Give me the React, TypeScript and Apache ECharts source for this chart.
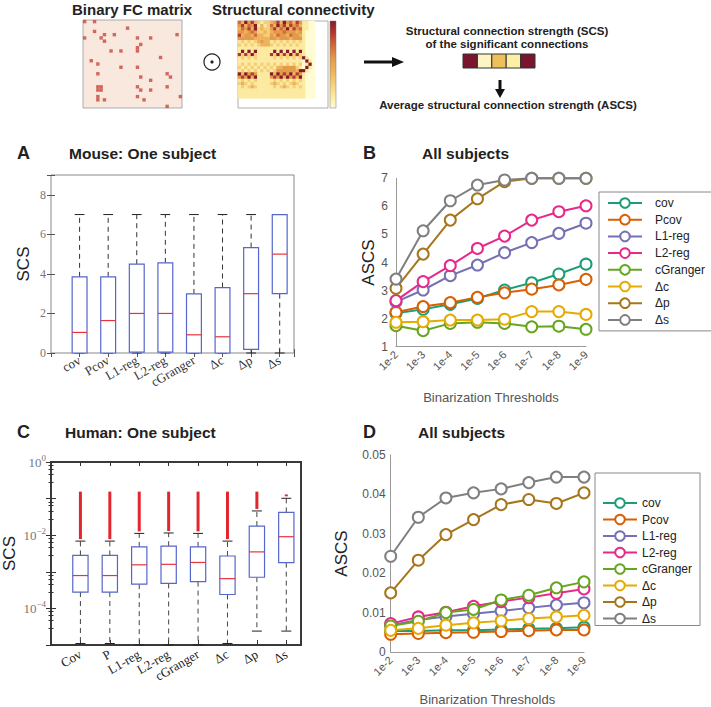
import React, { useEffect, useRef } from 'react';
import * as echarts from 'echarts';

// ---------- data ----------
const seriesNames = ['cov', 'Pcov', 'L1-reg', 'L2-reg', 'cGranger', 'Δc', 'Δp', 'Δs'];
const seriesColors = ['#1b9e77', '#d95f02', '#7570b3', '#e7298a', '#66a61e', '#e6ab02', '#a6761d', '#7f7f7f'];
const thresholds = ['1e-2', '1e-3', '1e-4', '1e-5', '1e-6', '1e-7', '1e-8', '1e-9'];

// Panel A (mouse, one subject) box statistics
const catsA = ['cov', 'Pcov', 'L1-reg', 'L2-reg', 'cGranger', 'Δc', 'Δp', 'Δs'];
const aMin = [0, 0, 0, 0, 0, 0, 0, 0];
const aQ1 = [0, 0, 0.04, 0.04, 0, 0, 0.18, 3.0];
const aMed = [1.04, 1.64, 2.0, 2.0, 0.92, 0.82, 3.0, 5.0];
const aQ3 = [3.85, 3.85, 4.49, 4.56, 2.99, 3.31, 5.33, 7.0];
const aMax = [7, 7, 7, 7, 7, 7, 7, 7];

// Panel C (human, one subject) box statistics
const catsC = ['Cov', 'P', 'L1-reg', 'L2-reg', 'cGranger', 'Δc', 'Δp', 'Δs'];
const cMin = [1.1e-5, 1.1e-5, 1.0e-5, 1.0e-5, 1.0e-5, 1.1e-5, 2.4e-5, 2.4e-5];
const cQ1 = [2.8e-4, 2.8e-4, 4.6e-4, 4.8e-4, 5.4e-4, 2.4e-4, 7.1e-4, 1.78e-3];
const cMed = [7.9e-4, 7.9e-4, 1.55e-3, 1.6e-3, 1.8e-3, 6.5e-4, 3.5e-3, 9.1e-3];
const cQ3 = [2.8e-3, 2.8e-3, 4.8e-3, 5.0e-3, 4.8e-3, 2.7e-3, 1.78e-2, 4.2e-2];
const cMax = [6.9e-3, 6.9e-3, 1.12e-2, 1.15e-2, 1.12e-2, 6.9e-3, 4.6e-2, 1.02e-1];
const cOutHi = [0.155, 0.155, 0.155, 0.155, 0.155, 0.155, 0.155, 0.13];

// Panel B (mouse, all subjects) ASCS
const bCov = [2.19, 2.33, 2.51, 2.72, 3.02, 3.28, 3.59, 3.94];
const bPcov = [2.23, 2.43, 2.57, 2.76, 2.92, 3.05, 3.2, 3.4];
const bL1 = [2.6, 3.02, 3.53, 3.91, 4.35, 4.71, 5.04, 5.4];
const bL2 = [2.64, 3.32, 3.89, 4.5, 4.94, 5.51, 5.81, 6.02];
const bCG = [1.75, 1.57, 1.83, 1.87, 1.83, 1.71, 1.73, 1.62];
const bDc = [1.87, 1.89, 1.95, 1.95, 1.98, 2.25, 2.25, 2.15];
const bDp = [3.08, 4.3, 5.51, 6.27, 6.88, 7.0, 7.0, 7.0];
const bDs = [3.41, 5.13, 6.2, 6.76, 6.94, 7.0, 7.0, 7.0];

// Panel D (human, all subjects) ASCS
const dCov = [0.0053, 0.0053, 0.0055, 0.0055, 0.0057, 0.0059, 0.006, 0.0063];
const dPcov = [0.0045, 0.0047, 0.0049, 0.005, 0.0052, 0.0054, 0.0056, 0.0056];
const dL1 = [0.0068, 0.0081, 0.009, 0.0097, 0.0104, 0.0112, 0.0119, 0.0125];
const dL2 = [0.0072, 0.0089, 0.0101, 0.0116, 0.0128, 0.0138, 0.0149, 0.016];
const dCG = [0.0066, 0.0078, 0.01, 0.0108, 0.0132, 0.0144, 0.0163, 0.0178];
const dDc = [0.0055, 0.006, 0.0068, 0.0074, 0.0079, 0.0085, 0.0089, 0.0093];
const dDp = [0.015, 0.0233, 0.0298, 0.0336, 0.0374, 0.0387, 0.0377, 0.0404];
const dDs = [0.0243, 0.0342, 0.0391, 0.0404, 0.0414, 0.043, 0.0444, 0.0444];

// Schematic: binary FC matrix (significant entries)
const fcCols = [0, 3, 13, 3, 6, 9, 5, 6, 0, 16, 20, 28, 17, 16, 8, 11, 16, 23, 2, 4, 11, 16, 4, 17, 20, 25, 26, 4, 5, 4, 5, 16, 17, 20, 25, 4, 16, 4, 6, 18, 29, 25];
const fcRows = [0, 0, 2, 3, 4, 4, 5, 6, 5, 5, 5, 4, 7, 8, 9, 9, 9, 11, 12, 13, 14, 14, 16, 17, 18, 16, 17, 20, 20, 21, 21, 20, 21, 21, 20, 23, 23, 24, 24, 24, 23, 26];

// Schematic: structural connectivity (0..7)
const scMatrix = [
  '537463212234637453641100',
  '463547131253746364531100',
  '354637232246354736451100',
  '443454223234445444341000',
  '634435332243544354431000',
  '444443333344344434441000',
  '121212343312121212121000',
  '212121233321212121211000',
  '111111111111111111111000',
  '171717111117171717171000',
  '626272111162726272621000',
  '121212111112121212127100',
  '111111111111111111110710',
  '121212121212121212120170',
  '212121212121334444210710',
  '121212121212444444377100',
  '737464111173746473641000',
  '464737111146473746371000',
  '121212111112121212121000',
  '232121111123212123211000',
  '121232111112123212121000',
  '111111111111111111111000',
  '111111111111111111111000',
  '111111111111111111111000',
];
const scColors = ['#fffbd2', '#fbeaa0', '#f5cf78', '#eeb25c', '#e39a4a', '#d46a3a', '#b33a30', '#861a2a'];
const scsCellColors = ['#7a1530', '#fdf6c3', '#efbf5c', '#fcf0a6', '#7a1530'];

// ---------- helpers ----------
const SANS = 'Liberation Sans';
const SERIF = 'Liberation Serif';

function makeBoxRender(outliers: boolean, whiskerColor: string) {
  return (params: any, api: any) => {
    const x = api.value(0);
    const mn = api.value(1), q1 = api.value(2), md = api.value(3), q3 = api.value(4), mx = api.value(5);
    const cx = api.coord([x, md])[0];
    const left = api.coord([x - 0.26, md])[0];
    const right = api.coord([x + 0.26, md])[0];
    const capL = api.coord([x - 0.17, md])[0];
    const capR = api.coord([x + 0.17, md])[0];
    const yMin = api.coord([x, mn])[1];
    const yQ1 = api.coord([x, q1])[1];
    const yMd = api.coord([x, md])[1];
    const yQ3 = api.coord([x, q3])[1];
    const yMx = api.coord([x, mx])[1];
    const children: any[] = [];
    if (outliers) {
      const yOut = api.coord([x, api.value(6)])[1];
      children.push({ type: 'line', shape: { x1: cx, y1: yMx - 2, x2: cx, y2: yOut }, style: { stroke: '#e3262e', lineWidth: 3 } });
    }
    const dash = { stroke: whiskerColor, lineWidth: 1, lineDash: [5, 4] };
    children.push({ type: 'line', shape: { x1: cx, y1: yQ3, x2: cx, y2: yMx }, style: dash });
    children.push({ type: 'line', shape: { x1: cx, y1: yQ1, x2: cx, y2: yMin }, style: dash });
    children.push({ type: 'line', shape: { x1: capL, y1: yMx, x2: capR, y2: yMx }, style: { stroke: '#222', lineWidth: 1 } });
    children.push({ type: 'line', shape: { x1: capL, y1: yMin, x2: capR, y2: yMin }, style: { stroke: '#222', lineWidth: 1 } });
    children.push({ type: 'rect', shape: { x: left, y: yQ3, width: right - left, height: yQ1 - yQ3 }, style: { fill: '#ffffff', stroke: '#5566cc', lineWidth: 1.2 } });
    children.push({ type: 'line', shape: { x1: left, y1: yMd, x2: right, y2: yMd }, style: { stroke: '#e8333b', lineWidth: 1.2 } });
    return { type: 'group', children };
  };
}

function catFormatter(cats: string[]) {
  return (v: number) => (Number.isInteger(v) && v >= 1 && v <= cats.length ? cats[v - 1] : '');
}

function txt(text: string, x: number, y: number, size: number, align = 'left', weight: any = 'bold') {
  return {
    type: 'text', x, y, silent: true,
    style: {
      text, fill: '#222', fontSize: size, fontWeight: weight, fontFamily: SANS,
      align, textAlign: align, verticalAlign: 'middle', textVerticalAlign: 'middle',
    },
  };
}

export default function App() {
  const ref = useRef<HTMLDivElement>(null);
  useEffect(() => {
    if (!ref.current) return;
    const chart = echarts.init(ref.current, undefined, { renderer: 'svg' });

    const fcData = fcCols.map((c, i) => [c + 0.5, fcRows[i] + 0.5]);
    const heatData: number[][] = [];
    scMatrix.forEach((row, r) => row.split('').forEach((ch, c) => heatData.push([c, r, Number(ch)])));
    const scXCats = Array.from({ length: 28 }, (_, i) => String(i));
    const scYCats = Array.from({ length: 27 }, (_, i) => String(i));

    const aData = catsA.map((_, i) => [i + 1, aMin[i], aQ1[i], aMed[i], aQ3[i], aMax[i]]);
    const cData = catsC.map((_, i) => [i + 1, cMin[i], cQ1[i], cMed[i], cQ3[i], cMax[i], cOutHi[i]]);

    const bValues = [bCov, bPcov, bL1, bL2, bCG, bDc, bDp, bDs];
    const dValues = [dCov, dPcov, dL1, dL2, dCG, dDc, dDp, dDs];
    const lineSeries = (vals: number[][], axis: number) =>
      vals.map((d, i) => ({
        type: 'line', name: seriesNames[i], xAxisIndex: axis, yAxisIndex: axis, data: d,
        symbol: 'emptyCircle', symbolSize: 11, clip: false,
        lineStyle: { width: 2, color: seriesColors[i] },
        itemStyle: { color: seriesColors[i], borderWidth: 1.8 },
      }));

    const tickIn = { inside: true, length: 4, lineStyle: { color: '#555' } };
    const noSplit = { show: false };

    const logFmt = (v: number) => {
      const e = Math.round(Math.log10(v));
      if (e === 0) return '{b|10}{s|0}';
      if (e === -2 || e === -4) return `{b|10}{s|−${-e}}`;
      return '';
    };

    const legendBase = {
      orient: 'vertical', selectedMode: false, data: seriesNames,
      borderColor: '#888', borderWidth: 1, backgroundColor: '#fff',
      itemWidth: 34, itemHeight: 12, borderRadius: 0,
    };

    const option: any = {
      animation: false,
      textStyle: { fontFamily: SANS },
      grid: [
        { left: 83, top: 20, width: 99, height: 88, show: true, backgroundColor: '#f9e8de', borderColor: '#999', borderWidth: 0.8 },
        { left: 238, top: 21, width: 90, height: 87, show: true, backgroundColor: '#fff', borderColor: '#999', borderWidth: 0.8 },
        { left: 51, top: 175, width: 243, height: 178, show: true, borderColor: '#888', borderWidth: 1 },
        { left: 396, top: 178.3, width: 190, height: 168.4 },
        { left: 48, top: 462, width: 253, height: 183, show: true, borderColor: '#3a3a3a', borderWidth: 2 },
        { left: 390.7, top: 455, width: 193.3, height: 197.7 },
      ],
      xAxis: [
        { gridIndex: 0, type: 'value', min: 0, max: 30, show: false },
        { gridIndex: 1, type: 'category', data: scXCats, show: false },
        {
          gridIndex: 2, type: 'value', min: 0, max: 8.5, interval: 1, axisLine: { show: false }, splitLine: noSplit,
          axisTick: tickIn,
          axisLabel: { rotate: 30, formatter: catFormatter(catsA), fontFamily: SERIF, fontSize: 13, color: '#333', margin: 6, showMinLabel: false },
        },
        { gridIndex: 2, type: 'value', position: 'top', min: 0, max: 8.5, interval: 1, axisLine: { show: false }, splitLine: noSplit, axisTick: tickIn, axisLabel: { show: false } },
        {
          gridIndex: 3, type: 'category', data: thresholds, boundaryGap: false,
          axisLine: { lineStyle: { color: '#999' } }, axisTick: { show: false },
          axisLabel: { rotate: 45, color: '#555', fontSize: 11, margin: 6, interval: 0 },
          name: 'Binarization Thresholds', nameLocation: 'middle', nameGap: 44,
          nameTextStyle: { color: '#555', fontSize: 13 },
        },
        {
          gridIndex: 4, type: 'value', min: 0, max: 8.5, interval: 1, axisLine: { show: false }, splitLine: noSplit,
          axisTick: { inside: true, length: 5, lineStyle: { color: '#333' } },
          axisLabel: { rotate: 30, formatter: catFormatter(catsC), fontFamily: SERIF, fontSize: 13, color: '#222', margin: 8, showMinLabel: false },
        },
        { gridIndex: 4, type: 'value', position: 'top', min: 0, max: 8.5, interval: 1, axisLine: { show: false }, splitLine: noSplit, axisTick: { inside: true, length: 4, lineStyle: { color: '#333' } }, axisLabel: { show: false } },
        {
          gridIndex: 5, type: 'category', data: thresholds, boundaryGap: false,
          axisLine: { lineStyle: { color: '#999' } }, axisTick: { show: false },
          axisLabel: { rotate: 45, color: '#555', fontSize: 11, margin: 6, interval: 0 },
          name: 'Binarization Thresholds', nameLocation: 'middle', nameGap: 41,
          nameTextStyle: { color: '#555', fontSize: 13 },
        },
      ],
      yAxis: [
        { gridIndex: 0, type: 'value', min: 0, max: 27, inverse: true, show: false },
        { gridIndex: 1, type: 'category', data: scYCats, inverse: true, show: false },
        {
          gridIndex: 2, type: 'value', min: 0, max: 9, interval: 2, axisLine: { show: false }, splitLine: noSplit,
          axisTick: tickIn,
          axisLabel: { fontFamily: SERIF, fontSize: 12, color: '#777', margin: 5, formatter: (v: number) => (v % 2 === 0 ? String(v) : '') },
          name: 'SCS', nameLocation: 'middle', nameGap: 19, nameTextStyle: { fontSize: 17, color: '#222' },
        },
        { gridIndex: 2, type: 'value', position: 'right', min: 0, max: 9, interval: 2, axisLine: { show: false }, splitLine: noSplit, axisTick: tickIn, axisLabel: { show: false } },
        {
          gridIndex: 3, type: 'value', min: 1, max: 7, interval: 1, splitLine: noSplit,
          axisLine: { show: true, lineStyle: { color: '#999' } }, axisTick: { show: false },
          axisLabel: { color: '#555', fontSize: 12, margin: 8 },
          name: 'ASCS', nameLocation: 'middle', nameGap: 19, nameTextStyle: { fontSize: 17, color: '#222' },
        },
        {
          gridIndex: 4, type: 'log', logBase: 10, min: 1e-5, max: 1, axisLine: { show: false }, splitLine: noSplit,
          axisTick: { inside: true, length: 5, lineStyle: { color: '#333' } },
          minorTick: { show: true, splitNumber: 5, length: 2.5, lineStyle: { color: '#333' } },
          axisLabel: {
            formatter: logFmt, margin: 5,
            rich: {
              b: { fontFamily: SERIF, fontSize: 13, color: '#777', lineHeight: 17 },
              s: { fontFamily: SERIF, fontSize: 9, color: '#777', lineHeight: 10, verticalAlign: 'top' },
            },
          },
          name: 'SCS', nameLocation: 'middle', nameGap: 33, nameTextStyle: { fontSize: 17, color: '#222' },
        },
        {
          gridIndex: 4, type: 'log', logBase: 10, min: 1e-5, max: 1, position: 'right', axisLine: { show: false }, splitLine: noSplit,
          axisTick: { inside: true, length: 5, lineStyle: { color: '#333' } },
          minorTick: { show: true, splitNumber: 5, length: 2.5, lineStyle: { color: '#333' } },
          axisLabel: { show: false },
        },
        {
          gridIndex: 5, type: 'value', min: 0, max: 0.05, interval: 0.01, splitLine: noSplit,
          axisLine: { show: true, lineStyle: { color: '#999' } }, axisTick: { show: false },
          axisLabel: { color: '#555', fontSize: 12, margin: 5 },
          name: 'ASCS', nameLocation: 'middle', nameGap: 41, nameTextStyle: { fontSize: 17, color: '#222' },
        },
      ],
      visualMap: [
        { type: 'continuous', show: false, min: 0, max: 7, seriesIndex: 1, inRange: { color: scColors } },
      ],
      legend: [
        {
          ...legendBase, left: 599, top: 192, itemGap: 4.7, padding: [5, 8, 5, 8],
          textStyle: { fontSize: 12, color: '#222', fontFamily: SANS, padding: [0, 0, 0, 8] },
        },
        {
          ...legendBase, left: 595, top: 473, itemGap: 4.5, padding: [24, 8, 1, 7],
          textStyle: { fontSize: 12, color: '#222', fontFamily: SANS },
        },
      ],
      series: [
        { type: 'scatter', xAxisIndex: 0, yAxisIndex: 0, data: fcData, symbol: 'rect', symbolSize: 3.4, itemStyle: { color: '#c8463c' }, silent: true },
        { type: 'heatmap', xAxisIndex: 1, yAxisIndex: 1, data: heatData, itemStyle: { borderWidth: 0 }, silent: true },
        { type: 'custom', xAxisIndex: 2, yAxisIndex: 2, data: aData, renderItem: makeBoxRender(false, '#333'), encode: { x: 0, y: [1, 2, 3, 4, 5] }, silent: true },
        { type: 'custom', xAxisIndex: 5, yAxisIndex: 5, data: cData, renderItem: makeBoxRender(true, '#444'), encode: { x: 0, y: [1, 2, 3, 4, 5, 6] }, silent: true },
        ...lineSeries(bValues, 4).map((s) => ({ ...s, xAxisIndex: 4, yAxisIndex: 4 })),
        ...lineSeries(dValues, 7).map((s) => ({ ...s, xAxisIndex: 7, yAxisIndex: 7 })),
      ],
      graphic: [
        txt('Binary FC matrix', 132, 9, 15, 'center'),
        txt('Structural connectivity', 212, 9, 15, 'left'),
        txt('Structural connection strength (SCS)', 507, 31, 11.5, 'center'),
        txt('of the significant connections', 507, 44, 11.5, 'center'),
        txt('Average structural connection strength (ASCS)', 508, 105, 11.5, 'center'),
        txt('A', 17, 153, 18),
        txt('Mouse: One subject', 69, 153, 15.5),
        txt('B', 363, 153, 18),
        txt('All subjects', 422, 153, 15.5),
        txt('C', 17, 432, 18),
        txt('Human: One subject', 65, 432, 15.5),
        txt('D', 363, 432, 18),
        txt('All subjects', 418, 432, 15.5),
        // odot
        { type: 'circle', shape: { cx: 212, cy: 62, r: 8 }, style: { fill: 'none', stroke: '#222', lineWidth: 1.2 }, silent: true },
        { type: 'circle', shape: { cx: 212, cy: 62, r: 1.6 }, style: { fill: '#222' }, silent: true },
        // colorbar
        {
          type: 'rect', shape: { x: 330, y: 21, width: 6, height: 87 }, silent: true,
          style: {
            fill: new echarts.graphic.LinearGradient(0, 0, 0, 1, scColors.slice().reverse().map((c, i) => ({ offset: i / (scColors.length - 1), color: c }))),
            stroke: '#777', lineWidth: 0.5,
          },
        },
        // right arrow
        { type: 'line', shape: { x1: 364, y1: 62, x2: 393, y2: 62 }, style: { stroke: '#111', lineWidth: 3 }, silent: true },
        { type: 'polygon', shape: { points: [[392, 57], [404, 62], [392, 67]] }, style: { fill: '#111' }, silent: true },
        // SCS cells
        ...scsCellColors.map((c, i) => ({
          type: 'rect', shape: { x: 463 + i * 14.4, y: 54, width: 14.4, height: 14 }, silent: true,
          style: { fill: c, stroke: '#333', lineWidth: 1 },
        })),
        // down arrow
        { type: 'line', shape: { x1: 500, y1: 80, x2: 500, y2: 90 }, style: { stroke: '#111', lineWidth: 3 }, silent: true },
        { type: 'polygon', shape: { points: [[495, 89], [500, 98], [505, 89]] }, style: { fill: '#111' }, silent: true },
      ],
    };

    chart.setOption(option);
    return () => chart.dispose();
  }, []);

  return <div ref={ref} style={{ position: 'absolute', left: 0, top: 0, width: 711, height: 707, background: '#fff' }} />;
}
